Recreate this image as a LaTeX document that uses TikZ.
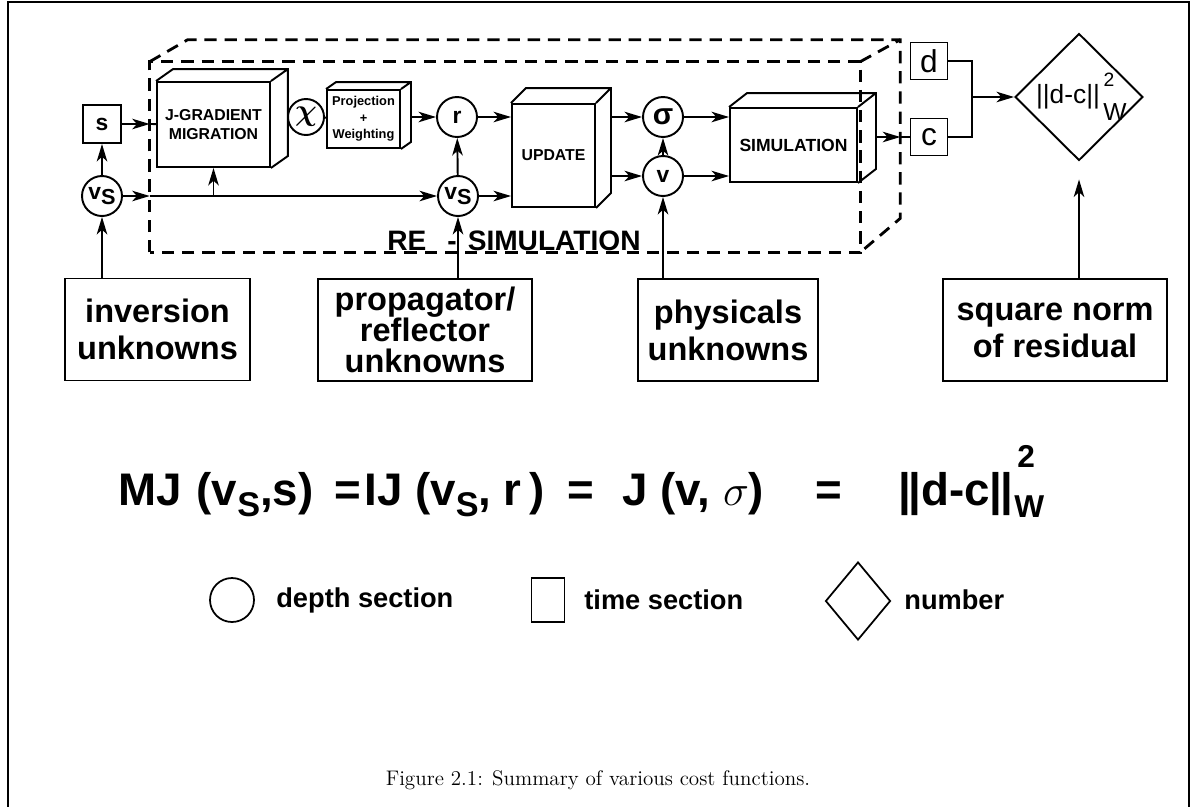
\documentclass[tikz,border=0pt]{standalone}
\usepackage{fontspec}
\usepackage{amsmath}
\usepackage{tikz}
\usetikzlibrary{shapes.geometric, arrows.meta, positioning, calc}
\newfontfamily\hv{Liberation Sans}
\newcommand{\vS}[1][0.75]{v\raisebox{-0.25em}{\scalebox{#1}{S}}}

\begin{document}
\begin{tikzpicture}[
      x=0.02cm, y=-0.02cm,
      ln/.style={line width=1.1pt},
      a/.style={ln, -{Stealth[length=10pt, width=6pt, inset=2.8pt]}},
      sec/.style={draw, circle, ln, minimum size=0.8cm, inner sep=0pt, font=\hv\bfseries\fontsize{13}{13}\selectfont},
      tsec/.style={draw, ln, minimum size=0.76cm, inner sep=0pt, font=\hv\fontsize{18}{18}\selectfont},
      cube/.style={draw, ln, inner sep=0pt, align=center, font=\hv\bfseries\fontsize{9}{11}\selectfont},
      unk/.style={draw, line width=0.9pt, align=center, minimum height=2.04cm, inner sep=0pt, font=\hv\bfseries\fontsize{18.5}{21}\selectfont},
      env/.style={draw, line width=1.6pt, dash pattern=on 7pt off 4.5pt},
      eq/.style={inner sep=0pt, font=\hv\bfseries\fontsize{26}{26}\selectfont},
      lg/.style={inner sep=0pt, font=\hv\bfseries\fontsize{15.5}{15.5}\selectfont}
    ]
    \useasboundingbox (0,0) rectangle (1195,806);

    % ---- page frame ----
    \draw[line width=0.8pt] (8,812) -- (8,2) -- (1189,2) -- (1189,812);

    % ---- RE-SIMULATION envelope (dashed cube) ----
    \node[draw=none, minimum width=14.2cm, minimum height=3.8cm] (env) at (505,157) {};
    \draw[env] (env.south west) rectangle (env.north east);
    \draw[env] (env.north west) -- ++(38,-22) -- ([shift={(40,-22)}]env.north east)
      -- ([shift={(40,-34)}]env.south east) -- (env.south east);
    \draw[env] (env.north east) -- ++(40,-22);
    \coordinate (envbr) at ([shift={(40,-22)}]env.north east);
    \node[anchor=base west, inner sep=0pt, font=\hv\bfseries\fontsize{16}{16}\selectfont]
      (resim) at (387,250) {RE\hspace{0.42cm}-\hspace{0.22cm}SIMULATION};

    % ---- Linha de cima: inversao ----
    \node[tsec, font=\hv\bfseries\fontsize{13}{13}\selectfont] (s) at (102,124) {s};
    \node[sec] (vs1) at (102,196) {\vS[0.95]};
    \node[cube, minimum width=2.26cm, minimum height=1.7cm] (jgm) at (213.5,124.5) {J-GRADIENT\\MIGRATION};
    \draw[ln] (jgm.north west) -- ++(17,-12) -- ([shift={(17,-12)}]jgm.north east)
      -- ([shift={(17,-12)}]jgm.south east) -- (jgm.south east) (jgm.north east) -- ++(17,-12);
    \node[sec, minimum size=0.72cm, font=\fontsize{17}{17}\selectfont] (chi) at (306,117) {$\boldsymbol{\chi}$};
    \node[cube, minimum width=1.46cm, minimum height=1.16cm, font=\hv\bfseries\fontsize{7.3}{9.3}\selectfont]
      (proj) at (363.5,119) {Projection\\+\\Weighting};
    \draw[ln] (proj.north west) -- ++(10,-7) -- ([shift={(10,-7)}]proj.north east)
      -- ([shift={(10,-7)}]proj.south east) -- (proj.south east) (proj.north east) -- ++(10,-7);

    % ---- meio: r, vs e update ----
    \node[sec] (r) at (457,117) {r};
    \node[sec] (vs2) at (458,196) {\vS[0.95]};
    \node[cube, minimum width=1.66cm, minimum height=2.06cm] (upd) at (553.5,155.5) {UPDATE};
    \draw[ln] (upd.north west) -- ++(15,-15) -- ([shift={(15,-15)}]upd.north east)
      -- ([shift={(15,-15)}]upd.south east) -- (upd.south east) (upd.north east) -- ++(15,-15);
    \coordinate (updside) at ([shift={(15,0)}]upd.east);

    % ---- fisicos e simulacao ----
    \node[sec, font=\hv\bfseries\fontsize{17}{17}\selectfont] (sigma) at (663,117) {σ};
    \node[sec] (v) at (663,176) {v};
    \node[cube, minimum width=2.54cm, minimum height=1.48cm, font=\hv\bfseries\fontsize{10}{11}\selectfont]
      (sim) at (793.5,145) {SIMULATION};
    \draw[ln] (sim.north west) -- ++(18,-14) -- ([shift={(18,-14)}]sim.north east)
      -- ([shift={(18,-14)}]sim.south east) -- (sim.south east) (sim.north east) -- ++(18,-14);
    \coordinate (simside) at ([shift={(18,0)}]sim.east);

    % ---- dados, calculados e norma ----
    \node[tsec, minimum size=0.74cm] (d) at (929,61) {d};
    \node[tsec, minimum size=0.74cm] (c) at (929,137) {c};
    \node[draw, diamond, ln, minimum width=2.56cm, minimum height=2.54cm, inner sep=0pt] (norm) at (1079,97) {};
    \node[inner sep=0pt, font=\hv\fontsize{15}{15}\selectfont] (normtxt) at (1068,97) {||d-c||};
    \node[inner sep=0pt, font=\hv\fontsize{11}{11}\selectfont] (norm2) at (1109,80) {2};
    \node[inner sep=0pt, font=\hv\fontsize{14}{14}\selectfont] (normw) at (1115,112) {W};
    \coordinate (join) at (972,97);

    % ---- caixas de baixo ----
    \node[unk, minimum width=3.7cm] (inv) at (157.5,329.5) {inversion\\unknowns};
    \node[unk, minimum width=4.28cm, font=\hv\bfseries\fontsize{18.5}{17.5}\selectfont] (prop) at (425,330)
      {propagator/\\reflector\\unknowns};
    \node[unk, minimum width=3.6cm] (phys) at (728,330) {physicals\\unknowns};
    \node[unk, minimum width=4.48cm] (sqn) at (1055,330) {square norm\\of residual};

    % ---- ligacoes ----
    \draw[a] (vs1 |- inv.north) -- (vs1);
    \draw[a] (vs1) -- (s);
    \draw[a] (s) -- (s -| env.west);
    \draw[ln] (s -| env.west) -- (jgm);
    \draw[a] (vs1) -- (vs1 -| env.west);
    \draw[a] (vs1 -| env.west) -- (vs2);
    \draw[a] (jgm.south |- vs1) -- (jgm.south);
    \draw[ln] ([shift={(17,-7)}]jgm.east) -- (chi);
    \draw[ln] (chi) -- (proj);
    \draw[a] ([shift={(10,-2)}]proj.east) -- (r);
    \draw[a] (vs2 |- prop.north) -- (vs2);
    \draw[a] (vs2) -- (r);
    \draw[a] (r) -- (r -| upd.west);
    \draw[a] (vs2) -- (vs2 -| upd.west);
    \draw[a] (updside |- sigma) -- (sigma);
    \draw[a] (updside |- v) -- (v);
    \draw[a] (v |- phys.north) -- (v);
    \draw[a] (v) -- (sigma);
    \draw[a] (sigma) -- (sigma -| sim.west);
    \draw[a] (v) -- (v -| sim.west);
    \draw[a] (simside |- c) -- (envbr |- c);
    \draw[ln] (envbr |- c) -- (c);
    \draw[ln] (d) -| (join);
    \draw[ln] (c) -| (join);
    \draw[a] (join) -- (norm);
    \draw[a, shorten >=0.36cm] (norm.south |- sqn.north) -- (norm.south);

    % ---- equacao ----
    \node[eq, anchor=base west] (mj) at (118,505) {MJ\hspace{0.3cm}(\vS,s)};
    \node[eq, anchor=base west] (eqa) at (334,505) {=};
    \node[eq, anchor=base west] (ij) at (364,505) {IJ (\vS, r\,)};
    \node[eq, anchor=base west] (eqb) at (567,505) {=};
    \node[eq, anchor=base west] (jv) at (622,505) {J (v, {\mdseries$\sigma$})};
    \node[eq, anchor=base west] (eqc) at (815,505) {=};
    \node[eq, anchor=base west] (dc) at (898,505) {|\kern-1.5pt|d-c|\kern-1.5pt|};
    \node[eq, anchor=base west, font=\hv\bfseries\fontsize{18}{18}\selectfont] (dc2) at ([shift={(4,-38)}]dc.base east) {2};
    \node[eq, anchor=base west, font=\hv\bfseries\fontsize{18}{18}\selectfont] (dcw) at ([shift={(1,12)}]dc.base east) {W};

    % ---- legenda ----
    \node[draw, circle, line width=1pt, minimum size=0.88cm] (lgc) at (232,600) {};
    \node[lg, anchor=west] (lgct) at (276,600) {depth section};
    \node[draw, line width=1pt, minimum width=0.66cm, minimum height=0.88cm] (lgs) at (548,600) {};
    \node[lg, anchor=west] (lgst) at (584,600) {time section};
    \node[draw, diamond, line width=1pt, minimum width=1.3cm, minimum height=1.56cm, inner sep=0pt] (lgd) at (858,601) {};
    \node[lg, anchor=west] (lgdt) at (904,600) {number};

    % ---- legenda da figura ----
    \node[font=\rmfamily\fontsize{12}{14}\selectfont] (cap) at (598,780) {Figure 2.1: Summary of various cost functions.};

    \end{tikzpicture}
\end{document}
